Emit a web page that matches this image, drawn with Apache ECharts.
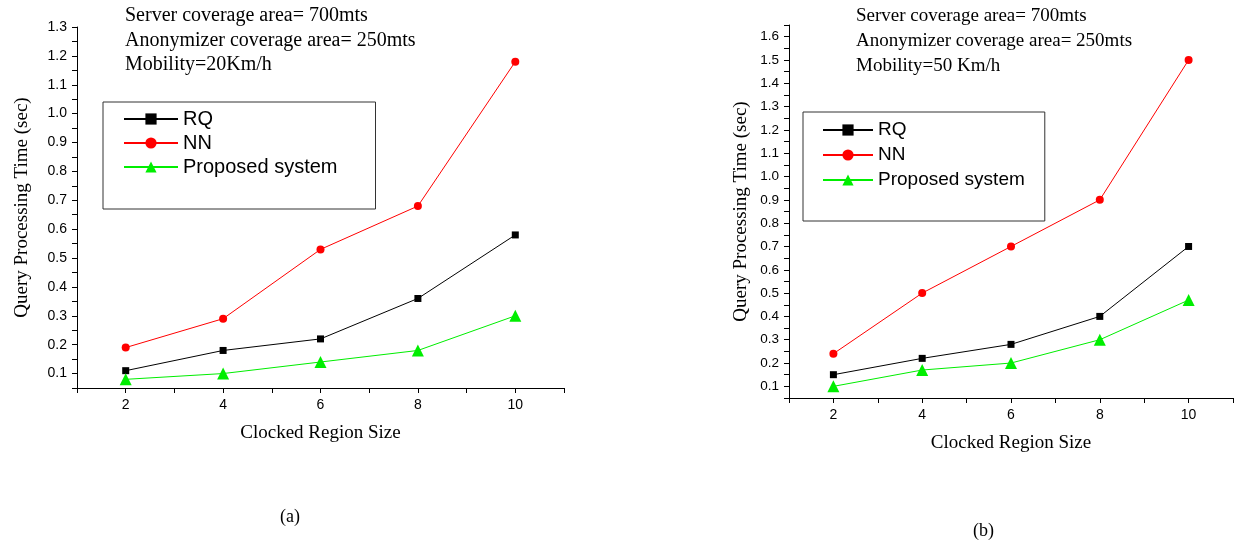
<!DOCTYPE html>
<html>
<head>
<meta charset="utf-8">
<script src="https://cdn.jsdelivr.net/npm/echarts@6/dist/echarts.min.js"></script>
<style>
  html, body { margin: 0; padding: 0; background: #fff; }
  #chart { width: 1236px; height: 548px; }
</style>
</head>
<body>
<div id="chart"></div>
<script>
// region sizes on the x axis
const regionSizes = [2, 4, 6, 8, 10];

// (a) mobility 20 Km/h
const rqA = [0.11, 0.18, 0.22, 0.36, 0.58];
const nnA = [0.19, 0.29, 0.53, 0.68, 1.18];
const propA = [0.08, 0.10, 0.14, 0.18, 0.30];

// (b) mobility 50 Km/h
const rqB = [0.15, 0.22, 0.28, 0.40, 0.70];
const nnB = [0.24, 0.50, 0.70, 0.90, 1.50];
const propB = [0.10, 0.17, 0.20, 0.30, 0.47];

const seriesNames = ['RQ', 'NN', 'Proposed system'];
const notesA = ['Server coverage area= 700mts', 'Anonymizer coverage area= 250mts', 'Mobility=20Km/h'];
const notesB = ['Server coverage area= 700mts', 'Anonymizer coverage area= 250mts', 'Mobility=50 Km/h'];

const chart = echarts.init(document.getElementById('chart'));

const pairs = vals => regionSizes.map((x, i) => [x, vals[i]]);

function xAxisOf(gridIndex) {
  return {
    type: 'value', gridIndex: gridIndex, min: 1, max: 11, interval: 1,
    name: 'Clocked Region Size', nameLocation: 'middle', nameGap: 36,
    nameTextStyle: { fontFamily: 'Liberation Serif', fontSize: 19, color: '#000' },
    axisLine: { lineStyle: { color: '#000', width: 1 } },
    axisTick: { length: 5, lineStyle: { color: '#000' } },
    axisLabel: {
      color: '#000', fontFamily: 'Liberation Sans', fontSize: 14, margin: 10,
      formatter: v => (v % 2 === 0 ? String(v) : '')
    },
    splitLine: { show: false }
  };
}

function yAxisOf(gridIndex, max, nameGap, fontSize) {
  return {
    type: 'value', gridIndex: gridIndex, min: 0.05, max: max, interval: 0.05,
    name: 'Query Processing Time (sec)', nameLocation: 'middle', nameGap: nameGap,
    nameTextStyle: { fontFamily: 'Liberation Serif', fontSize: 19, color: '#000' },
    axisLine: { show: true, lineStyle: { color: '#000', width: 1 } },
    axisTick: { show: true, length: 5, lineStyle: { color: '#000' } },
    axisLabel: {
      color: '#000', fontFamily: 'Liberation Sans', fontSize: fontSize, margin: 10,
      formatter: v => (Math.round(v * 100) % 10 === 0 ? v.toFixed(1) : '')
    },
    splitLine: { show: false }
  };
}

function lineSeries(name, data, idx, symbol, size, color) {
  return {
    name: name, type: 'line', xAxisIndex: idx, yAxisIndex: idx,
    data: pairs(data), symbol: symbol, symbolSize: size,
    lineStyle: { color: color, width: 1 },
    itemStyle: { color: color },
    animation: false
  };
}

function legendOf(left, top, gap, pad, itemWidth, fontSize) {
  return {
    orient: 'vertical', left: left, top: top,
    data: seriesNames, itemWidth: itemWidth, itemHeight: 14, itemGap: gap,
    padding: pad, borderColor: '#333', borderWidth: 1,
    textStyle: { fontFamily: 'Liberation Sans', fontSize: fontSize, color: '#000', lineHeight: 20 }
  };
}

function notes(lines, x, ys, size) {
  return lines.map((t, i) => ({
    type: 'text', left: x, top: ys[i] - size / 2 - 1,
    style: { text: t, fontFamily: 'Liberation Serif', fontSize: size, fill: '#000' }
  }));
}

const option = {
  backgroundColor: '#fff',
  grid: [
    { left: 77, right: 672, top: 27, bottom: 160 },
    { left: 789, right: 1, top: 25, bottom: 150 }
  ],
  xAxis: [xAxisOf(0), xAxisOf(1)],
  yAxis: [yAxisOf(0, 1.3, 45, 14), yAxisOf(1, 1.65, 38, 13.5)],
  legend: [
    legendOf(103, 102, 4, [7, 38, 32, 20], 54, 20),
    legendOf(803, 112, 5, [8, 20, 31, 19], 50, 19)
  ],
  series: [
    lineSeries('RQ', rqA, 0, 'rect', 7, '#000'),
    lineSeries('NN', nnA, 0, 'circle', 8, '#ff0000'),
    lineSeries('Proposed system', propA, 0, 'triangle', 12, '#00ee00'),
    lineSeries('RQ', rqB, 1, 'rect', 7, '#000'),
    lineSeries('NN', nnB, 1, 'circle', 8, '#ff0000'),
    lineSeries('Proposed system', propB, 1, 'triangle', 12, '#00ee00')
  ],
  graphic: [
    ...notes(notesA, 125, [17, 42, 66], 20),
    ...notes(notesB, 856, [17, 42, 67], 19),
    { type: 'text', left: 280, top: 508, style: { text: '(a)', fontFamily: 'Liberation Serif', fontSize: 18, fill: '#000' } },
    { type: 'text', left: 973, top: 522, style: { text: '(b)', fontFamily: 'Liberation Serif', fontSize: 18, fill: '#000' } }
  ]
};

chart.setOption(option);
</script>
</body>
</html>
